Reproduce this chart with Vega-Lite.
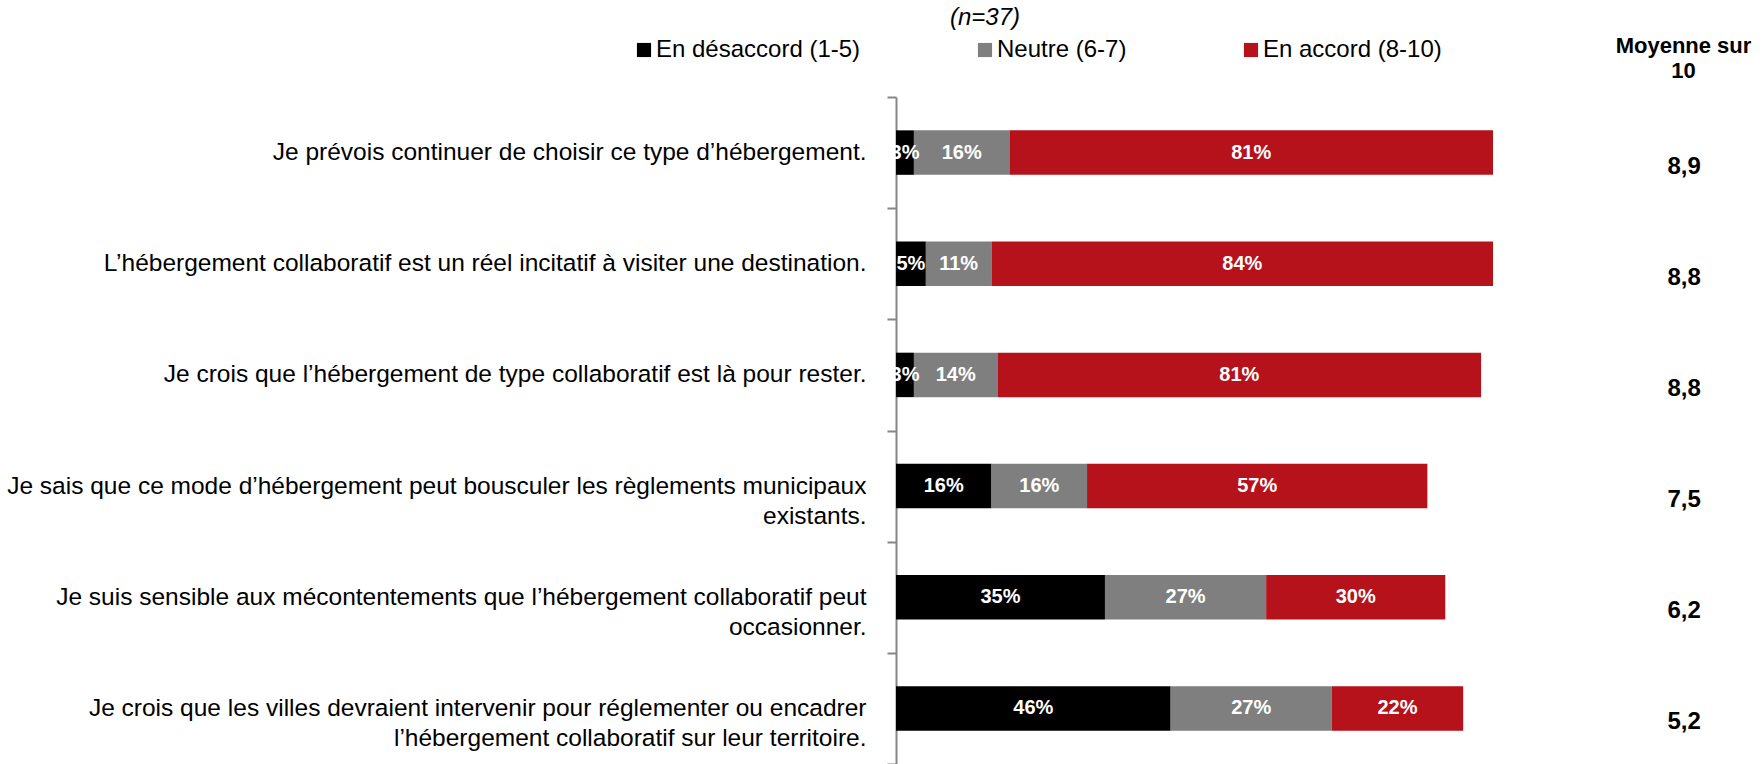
{
  "$schema": "https://vega.github.io/schema/vega-lite/v6.json",
  "autosize": {"type": "none"},
  "padding": {"left": 896, "top": 97, "right": 61, "bottom": 0},
  "width": 806,
  "height": 667,
  "background": "white",
  "title": {
    "text": "(n=37)",
    "anchor": "start",
    "frame": "group",
    "dx": 54,
    "offset": 4,
    "font": "Liberation Sans",
    "fontSize": 24,
    "fontStyle": "italic",
    "fontWeight": "normal",
    "color": "#000000"
  },
  "datasets": {
    "bars": [
      {"item": "Je prévois continuer de choisir ce type d’hébergement.", "cat": "En désaccord (1-5)", "order": 1, "value": 0.03},
      {"item": "Je prévois continuer de choisir ce type d’hébergement.", "cat": "Neutre (6-7)", "order": 2, "value": 0.16},
      {"item": "Je prévois continuer de choisir ce type d’hébergement.", "cat": "En accord (8-10)", "order": 3, "value": 0.81},
      {"item": "L’hébergement collaboratif est un réel incitatif à visiter une destination.", "cat": "En désaccord (1-5)", "order": 1, "value": 0.05},
      {"item": "L’hébergement collaboratif est un réel incitatif à visiter une destination.", "cat": "Neutre (6-7)", "order": 2, "value": 0.11},
      {"item": "L’hébergement collaboratif est un réel incitatif à visiter une destination.", "cat": "En accord (8-10)", "order": 3, "value": 0.84},
      {"item": "Je crois que l’hébergement de type collaboratif est là pour rester.", "cat": "En désaccord (1-5)", "order": 1, "value": 0.03},
      {"item": "Je crois que l’hébergement de type collaboratif est là pour rester.", "cat": "Neutre (6-7)", "order": 2, "value": 0.14},
      {"item": "Je crois que l’hébergement de type collaboratif est là pour rester.", "cat": "En accord (8-10)", "order": 3, "value": 0.81},
      {"item": "Je sais que ce mode d’hébergement peut bousculer les règlements municipaux|existants.", "cat": "En désaccord (1-5)", "order": 1, "value": 0.16},
      {"item": "Je sais que ce mode d’hébergement peut bousculer les règlements municipaux|existants.", "cat": "Neutre (6-7)", "order": 2, "value": 0.16},
      {"item": "Je sais que ce mode d’hébergement peut bousculer les règlements municipaux|existants.", "cat": "En accord (8-10)", "order": 3, "value": 0.57},
      {"item": "Je suis sensible aux mécontentements que l’hébergement collaboratif peut|occasionner.", "cat": "En désaccord (1-5)", "order": 1, "value": 0.35},
      {"item": "Je suis sensible aux mécontentements que l’hébergement collaboratif peut|occasionner.", "cat": "Neutre (6-7)", "order": 2, "value": 0.27},
      {"item": "Je suis sensible aux mécontentements que l’hébergement collaboratif peut|occasionner.", "cat": "En accord (8-10)", "order": 3, "value": 0.30},
      {"item": "Je crois que les villes devraient intervenir pour réglementer ou encadrer|l’hébergement collaboratif sur leur territoire.", "cat": "En désaccord (1-5)", "order": 1, "value": 0.46},
      {"item": "Je crois que les villes devraient intervenir pour réglementer ou encadrer|l’hébergement collaboratif sur leur territoire.", "cat": "Neutre (6-7)", "order": 2, "value": 0.27},
      {"item": "Je crois que les villes devraient intervenir pour réglementer ou encadrer|l’hébergement collaboratif sur leur territoire.", "cat": "En accord (8-10)", "order": 3, "value": 0.22}
    ],
    "means": [
      {"item": "Je prévois continuer de choisir ce type d’hébergement.", "mean": 8.9},
      {"item": "L’hébergement collaboratif est un réel incitatif à visiter une destination.", "mean": 8.8},
      {"item": "Je crois que l’hébergement de type collaboratif est là pour rester.", "mean": 8.8},
      {"item": "Je sais que ce mode d’hébergement peut bousculer les règlements municipaux|existants.", "mean": 7.5},
      {"item": "Je suis sensible aux mécontentements que l’hébergement collaboratif peut|occasionner.", "mean": 6.2},
      {"item": "Je crois que les villes devraient intervenir pour réglementer ou encadrer|l’hébergement collaboratif sur leur territoire.", "mean": 5.2}
    ]
  },
  "encoding": {
    "y": {
      "field": "item",
      "type": "nominal",
      "sort": null,
      "title": null,
      "scale": {"paddingInner": 0, "paddingOuter": 0},
      "axis": {
        "labelExpr": "split(datum.label, '|')",
        "labelFont": "Liberation Sans",
        "labelFontSize": 24.5,
        "labelColor": "#000000",
        "labelLineHeight": 30,
        "labelLimit": 1000,
        "labelPadding": 21,
        "tickBand": "extent",
        "tickSize": 9,
        "tickWidth": 2,
        "tickColor": "#868686",
        "domainColor": "#868686",
        "domainWidth": 2,
        "grid": false
      }
    }
  },
  "layer": [
    {
      "data": {"name": "bars"},
      "transform": [
        {"stack": "value", "groupby": ["item"], "sort": [{"field": "order"}], "as": ["v0", "v1"]}
      ],
      "layer": [
        {
          "mark": {"type": "bar", "height": {"band": 0.4}},
          "encoding": {
            "x": {
              "field": "v0",
              "type": "quantitative",
              "scale": {"domain": [0, 1.35], "nice": false, "zero": true},
              "axis": {
                "orient": "top",
                "title": ["Moyenne sur", "10"],
                "titleX": 787,
                "titleY": -45,
                "titleAlign": "center",
                "titleBaseline": "alphabetic",
                "titleFont": "Liberation Sans",
                "titleFontSize": 22,
                "titleFontWeight": "bold",
                "titleColor": "#000000",
                "titleLineHeight": 25,
                "labels": false,
                "ticks": false,
                "domain": false,
                "grid": false
              }
            },
            "x2": {"field": "v1"},
            "color": {
              "field": "cat",
              "type": "nominal",
              "scale": {
                "domain": ["En désaccord (1-5)", "Neutre (6-7)", "En accord (8-10)"],
                "range": ["#000000", "#7F7F7F", "#B5121B"]
              },
              "legend": {
                "title": null,
                "orient": "none",
                "legendX": -264,
                "legendY": -59,
                "direction": "horizontal",
                "columns": 3,
                "gridAlign": "each",
                "columnPadding": 112,
                "symbolType": "square",
                "symbolSize": 200,
                "symbolStrokeWidth": 0,
                "symbolOpacity": 1,
                "labelFont": "Liberation Sans",
                "labelFontSize": 24,
                "labelColor": "#000000",
                "labelLimit": 400,
                "labelOffset": 0
              }
            }
          }
        },
        {
          "mark": {
            "type": "text",
            "color": "white",
            "font": "Liberation Sans",
            "fontSize": 20,
            "fontWeight": "bold",
            "baseline": "middle",
            "align": "center",
            "x": {"expr": "(scale('x', datum.v0) + scale('x', datum.v1)) / 2"}
          },
          "encoding": {
            "text": {"field": "value", "type": "quantitative", "format": ".0%"}
          }
        }
      ]
    },
    {
      "data": {"name": "means"},
      "mark": {"type": "text", "font": "Liberation Sans", "fontSize": 24, "fontWeight": "bold", "color": "#000000", "dy": 14, "align": "center", "baseline": "middle"},
      "encoding": {
        "x": {"datum": 1.32, "type": "quantitative"},
        "text": {"field": "mean", "type": "quantitative", "format": ".1f"}
      }
    }
  ],
  "config": {
    "locale": {"number": {"decimal": ",", "thousands": " ", "grouping": [3], "currency": ["", " €"]}},
    "view": {"stroke": null}
  }
}
